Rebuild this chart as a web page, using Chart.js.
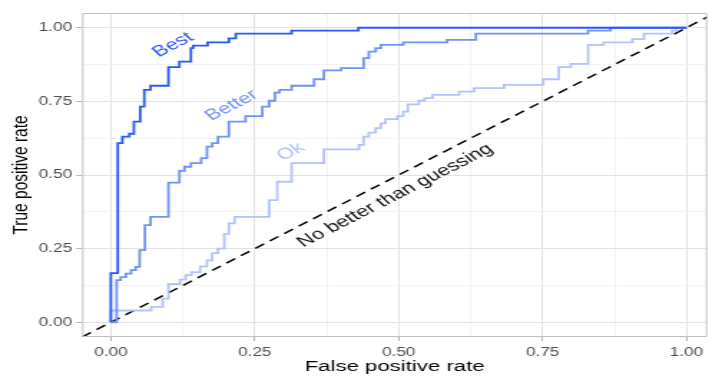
<!DOCTYPE html>
<html>
<head>
<meta charset="utf-8">
<script src="https://cdn.jsdelivr.net/npm/chart.js@4.4.1/dist/chart.umd.min.js"></script>
<style>
  html, body { margin: 0; padding: 0; background: #ffffff; }
  #c { display: block; width: 709px; height: 378px; }
</style>
</head>
<body>
<canvas id="c" width="495" height="378" style="width:709px;height:378px;"></canvas>
<script>
// ---- Data ----
const bestFpr   = [0, 0, 0.012, 0.02, 0.032, 0.04, 0.051, 0.058, 0.069, 0.10, 0.119, 0.139, 0.143, 0.168, 0.205, 0.217, 0.314, 0.43, 1.0];
const bestTpr   = [0, 0.167, 0.608, 0.63, 0.64, 0.681, 0.732, 0.789, 0.803, 0.866, 0.885, 0.931, 0.939, 0.95, 0.964, 0.98, 0.99, 1.0, 1.0];

const betterFpr = [0, 0.01, 0.017, 0.026, 0.035, 0.043, 0.05, 0.059, 0.069, 0.10, 0.119, 0.128, 0.139, 0.157, 0.167, 0.176, 0.186, 0.205, 0.234, 0.263, 0.275, 0.285, 0.293, 0.314, 0.353, 0.37, 0.40, 0.439, 0.448, 0.46, 0.469, 0.508, 0.584, 0.634, 0.829, 0.868, 1.0];
const betterTpr = [0, 0.143, 0.153, 0.165, 0.177, 0.188, 0.245, 0.33, 0.358, 0.474, 0.514, 0.528, 0.54, 0.557, 0.596, 0.608, 0.63, 0.681, 0.70, 0.732, 0.752, 0.78, 0.789, 0.803, 0.825, 0.855, 0.863, 0.897, 0.919, 0.931, 0.942, 0.95, 0.959, 0.98, 0.99, 1.0, 1.0];

const okFpr = [0, 0, 0.07, 0.09, 0.10, 0.12, 0.13, 0.14, 0.155, 0.167, 0.176, 0.186, 0.197, 0.205, 0.215, 0.275, 0.289, 0.314, 0.37, 0.431, 0.439, 0.448, 0.46, 0.469, 0.477, 0.498, 0.508, 0.516, 0.535, 0.545, 0.559, 0.605, 0.631, 0.683, 0.751, 0.778, 0.799, 0.829, 0.856, 0.906, 0.926, 0.975, 0.983, 1.0];
const okTpr = [0, 0.04, 0.052, 0.08, 0.13, 0.145, 0.16, 0.17, 0.19, 0.21, 0.235, 0.25, 0.30, 0.336, 0.358, 0.415, 0.477, 0.54, 0.587, 0.602, 0.63, 0.644, 0.659, 0.675, 0.69, 0.70, 0.715, 0.74, 0.753, 0.761, 0.772, 0.783, 0.795, 0.806, 0.825, 0.866, 0.877, 0.942, 0.95, 0.961, 0.98, 0.99, 1.0, 1.0];

const guessLine = [-0.05, 1.05];

const tickValues  = [0, 0.25, 0.5, 0.75, 1];
const tickLabels  = ['0.00', '0.25', '0.50', '0.75', '1.00'];
const minorValues = [0.125, 0.375, 0.625, 0.875];

const curveLabels = ['Best', 'Better', 'Ok', 'No better than guessing'];
const labelFpr    = [0.108, 0.21, 0.3125, 0.494];
const labelTpr    = [0.942, 0.736, 0.579, 0.430];

// ---- Styles ----
const FONT = "'Liberation Sans', Arial, Helvetica, sans-serif";
const colBest = '#2858f7';
const colBetter = '#7092f6';
const colOk = '#b3c3f9';
const labelColors = [colBest, colBetter, colOk, '#111111'];

function pts(xs, ys) { return xs.map((x, i) => ({ x: x, y: ys[i] })); }
function isMajor(v) { return tickValues.indexOf(v) >= 0; }
function allTicks() { return tickValues.concat(minorValues).sort((a, b) => a - b).map(v => ({ value: v })); }

const gridOpts = {
  color: c => (c.tick && isMajor(c.tick.value)) ? '#e2e2e2' : '#f0f0f0',
  lineWidth: c => (c.tick && isMajor(c.tick.value)) ? 1 : 0.8,
  tickColor: c => (c.tick && isMajor(c.tick.value)) ? '#b3b3b3' : 'rgba(0,0,0,0)',
  tickLength: 4,
  drawTicks: true
};

const framePlugin = {
  id: 'frame',
  afterDatasetsDraw(chart) {
    const { ctx, chartArea: a, scales } = chart;
    ctx.save();
    ctx.strokeStyle = '#c2c2c2';
    ctx.lineWidth = 1;
    ctx.strokeRect(a.left + 0.5, a.top + 0.5, a.right - a.left - 1, a.bottom - a.top - 1);
    ctx.font = '15.5px ' + FONT;
    ctx.textAlign = 'center';
    ctx.textBaseline = 'middle';
    for (let i = 0; i < curveLabels.length; i++) {
      const px = scales.x.getPixelForValue(labelFpr[i]);
      const py = scales.y.getPixelForValue(labelTpr[i]);
      ctx.save();
      ctx.translate(px, py);
      ctx.rotate(-36 * Math.PI / 180);
      ctx.fillStyle = labelColors[i];
      ctx.fillText(curveLabels[i], 0, 0);
      ctx.restore();
    }
    ctx.restore();
  }
};

new Chart(document.getElementById('c'), {
  type: 'line',
  data: {
    datasets: [
      { label: 'Best', data: pts(bestFpr, bestTpr), borderColor: colBest, borderWidth: 1.8, stepped: true, pointRadius: 0, fill: false },
      { label: 'Better', data: pts(betterFpr, betterTpr), borderColor: colBetter, borderWidth: 1.8, stepped: true, pointRadius: 0, fill: false },
      { label: 'Ok', data: pts(okFpr, okTpr), borderColor: colOk, borderWidth: 1.8, stepped: true, pointRadius: 0, fill: false },
      { label: 'Guess', data: pts(guessLine, guessLine), borderColor: '#000000', borderWidth: 1.5, borderDash: [7.5, 5], pointRadius: 0, fill: false, tension: 0 }
    ]
  },
  options: {
    responsive: false,
    maintainAspectRatio: false,
    devicePixelRatio: 1,
    animation: false,
    layout: { padding: { top: 13, right: 1, left: 0, bottom: 0 } },
    plugins: { legend: { display: false }, tooltip: { enabled: false } },
    scales: {
      x: {
        type: 'linear',
        min: -0.05,
        max: 1.036,
        afterBuildTicks: s => { s.ticks = allTicks(); },
        afterFit: s => { s.height = 41; },
        border: { display: false },
        grid: gridOpts,
        ticks: {
          autoSkip: false, maxRotation: 0, minRotation: 0, padding: 4,
          color: '#4d4d4d', font: { family: FONT, size: 12 },
          callback: v => { const i = tickValues.indexOf(v); return i >= 0 ? tickLabels[i] : ''; }
        },
        title: { display: true, text: 'False positive rate', color: '#000000', font: { family: FONT, size: 15.5 }, padding: { top: 0, bottom: 2 } }
      },
      y: {
        type: 'linear',
        min: -0.05,
        max: 1.05,
        afterBuildTicks: s => { s.ticks = allTicks(); },
        afterFit: s => { s.width = 57.3; },
        border: { display: false },
        grid: gridOpts,
        ticks: {
          autoSkip: false, padding: 3,
          color: '#4d4d4d', font: { family: FONT, size: 12 },
          callback: v => { const i = tickValues.indexOf(v); return i >= 0 ? tickLabels[i] : ''; }
        },
        title: { display: true, text: 'True positive rate', color: '#000000', font: { family: FONT, size: 15.5 }, padding: { top: 5, bottom: 0 } }
      }
    }
  },
  plugins: [framePlugin]
});
</script>
</body>
</html>
